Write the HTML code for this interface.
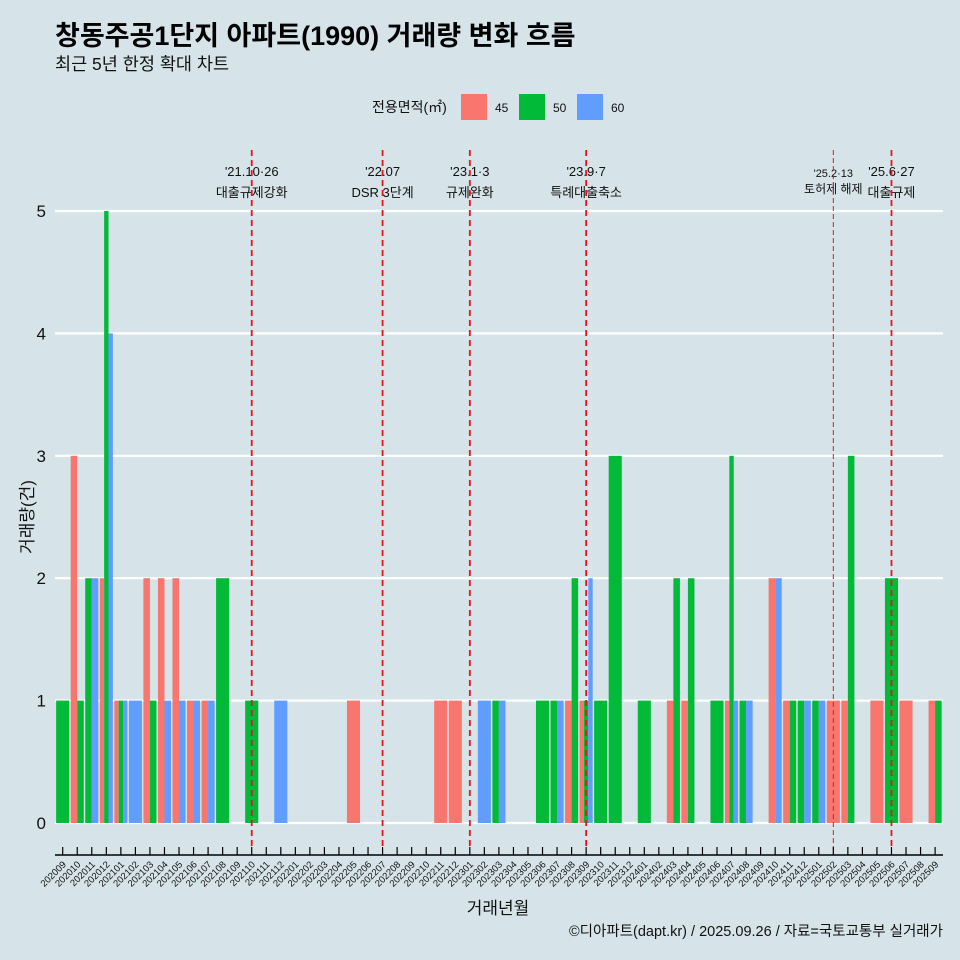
<!DOCTYPE html>
<html><head><meta charset="utf-8">
<style>
html,body{margin:0;padding:0;background:#d6e4ea;}
svg{display:block;font-family:"Liberation Sans","Noto Sans CJK KR",sans-serif;}
</style></head>
<body>
<svg id="chart" width="960" height="960" viewBox="0 0 960 960">
<rect width="960" height="960" fill="#d6e4ea"/>
<text x="55" y="45" font-size="27" font-weight="bold" fill="#000">창동주공1단지 아파트(1990) 거래량 변화 흐름</text>
<text x="55" y="70" font-size="17.5" fill="#111">최근 5년 한정 확대 차트</text>
<g>
<text x="372" y="112" font-size="14" fill="#111">전용면적(㎡)</text>
<rect x="461" y="94" width="26" height="26" fill="#F8766D"/>
<text x="495" y="112" font-size="12" fill="#111">45</text>
<rect x="519" y="94" width="26" height="26" fill="#00BA38"/>
<text x="553" y="112" font-size="12" fill="#111">50</text>
<rect x="577" y="94" width="26" height="26" fill="#619CFF"/>
<text x="611" y="112" font-size="12" fill="#111">60</text>
</g>
<text transform="translate(33,517) rotate(-90)" text-anchor="middle" font-size="17" fill="#111">거래량(건)</text>
<text x="498" y="914" text-anchor="middle" font-size="17" fill="#111">거래년월</text>
<text x="943" y="936" text-anchor="end" font-size="14.5" fill="#111">©디아파트(dapt.kr) / 2025.09.26 / 자료=국토교통부 실거래가</text>
<g id="grid"></g><g id="bars"></g><g id="events"></g><g id="xaxis"></g>
</svg>
<script>
const months = ["202009","202010","202011","202012","202101","202102","202103","202104","202105","202106","202107","202108","202109","202110","202111","202112","202201","202202","202203","202204","202205","202206","202207","202208","202209","202210","202211","202212","202301","202302","202303","202304","202305","202306","202307","202308","202309","202310","202311","202312","202401","202402","202403","202404","202405","202406","202407","202408","202409","202410","202411","202412","202501","202502","202503","202504","202505","202506","202507","202508","202509"];
const s45 = [0,3,0,2,1,0,2,2,2,1,1,0,0,0,0,0,0,0,0,0,1,0,0,0,0,0,1,1,0,0,0,0,0,0,0,1,1,0,0,0,0,0,1,1,0,0,1,0,0,2,1,0,0,1,1,0,1,0,1,0,1];
const s50 = [1,1,2,5,1,0,1,0,0,0,0,2,0,1,0,0,0,0,0,0,0,0,0,0,0,0,0,0,0,0,1,0,0,1,1,2,1,1,3,0,1,0,2,2,0,1,3,1,0,0,1,1,1,0,3,0,0,2,0,0,1];
const s60 = [0,0,2,4,1,1,0,1,1,1,1,0,0,0,0,1,0,0,0,0,0,0,0,0,0,0,0,0,0,1,1,0,0,0,1,0,2,0,0,0,0,0,0,0,0,0,1,1,0,2,0,1,1,0,0,0,0,0,0,0,0];
const yTicks = [0,1,2,3,4,5];
const eventMonths = ["202110","202207","202301","202309","202502","202506"];
const eventDates = ["'21.10·26","'22.07","'23.1·3","'23.9·7","'25.2·13","'25.6·27"];
const eventNames = ["대출규제강화","DSR 3단계","규제완화","특례대출축소","토허제 해제","대출규제"];

const NS="http://www.w3.org/2000/svg";
const x0=62.7, step=14.54, y0=823, yUnit=122.4;
const xs=i=>x0+i*step;
const ys=v=>y0-v*yUnit;
function mk(tag,attrs,parent){const e=document.createElementNS(NS,tag);for(const k in attrs)e.setAttribute(k,attrs[k]);parent.appendChild(e);return e;}
const grid=document.getElementById('grid'),bars=document.getElementById('bars'),ev=document.getElementById('events'),xa=document.getElementById('xaxis');
yTicks.forEach(t=>{
  const l=mk('line',{x1:55,x2:943,y1:ys(t),y2:ys(t),stroke:'#fff','stroke-width':2.2},grid);
  
  
  const tx=mk('text',{x:46,y:ys(t)+6,'text-anchor':'end','font-size':17,fill:'#111'},grid);
  tx.textContent=t;
  
  
});
const series=[[s45,'#F8766D','45'],[s50,'#00BA38','50'],[s60,'#619CFF','60']];
months.forEach((m,i)=>{
  const present=series.filter(s=>s[0][i]>0);
  const n=present.length; if(!n)return;
  const w=step*0.9, bw=w/n, left=xs(i)-w/2;
  present.forEach((s,j)=>{
    const v=s[0][i];
    const r=mk('rect',{x:left+j*bw,y:ys(v),width:bw,height:v*yUnit,fill:s[1]},bars);
    
    
  });
});
eventMonths.forEach((m,k)=>{
  const i=months.indexOf(m), x=xs(i);
  const small=(m==="202502");
  const t1=mk('text',{x:x,y:small?177:176,'text-anchor':'middle','font-size':small?11:13,fill:'#111'},ev);
  t1.textContent=eventDates[k];
  
  
  const t2=mk('text',{x:x,y:small?193:197,'text-anchor':'middle','font-size':small?12:13,fill:'#111'},ev);
  t2.textContent=eventNames[k];
  
  
  const l=mk('line',{x1:x,x2:x,y1:150,y2:850,stroke:'#e8141c','stroke-width':small?1:1.8,'stroke-dasharray':small?'5,3':'6,4'},ev);
  
  
});
const ax=mk('line',{x1:55,x2:943,y1:855,y2:855,stroke:'#000','stroke-width':1.5},xa);


months.forEach((m,i)=>{
  const x=xs(i);
  const t=mk('line',{x1:x,x2:x,y1:847,y2:855,stroke:'#000','stroke-width':1.2},xa);
  
  
  const lb=mk('text',{transform:`translate(${x+4},${865}) rotate(-45)`,'text-anchor':'end','font-size':9.5,fill:'#111'},xa);
  lb.textContent=m;
  
  
});
</script>
</body></html>
